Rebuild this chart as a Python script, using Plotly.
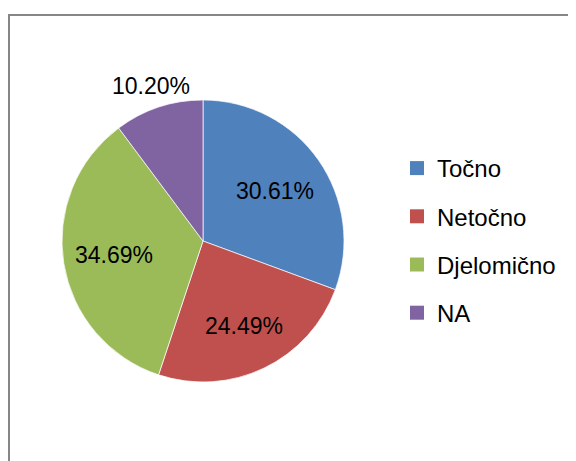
import math
import plotly.graph_objects as go

categories = ["Točno", "Netočno", "Djelomično", "NA"]
counts = [15, 12, 17, 5]  # 30.61%, 24.49%, 34.69%, 10.20%
colors = ["#4F81BD", "#C0504D", "#9BBB59", "#8064A2"]
label_dist = [0.62, 0.67, 0.64, 1.16]  # label distance from centre, in radii

W, H = 576, 461
OFF = 8  # page body margin
FONT = "Liberation Sans, Arial, sans-serif"

# pie geometry (pixels within the figure)
cx, cy, R = 203 - OFF, 241 - OFF, 141

fig = go.Figure()
fig.add_trace(go.Pie(
    labels=categories,
    values=counts,
    sort=False,
    direction="clockwise",
    rotation=0,
    marker=dict(colors=colors, line=dict(color="white", width=0.7)),
    textinfo="none",
    domain=dict(x=[(cx - R) / W, (cx + R) / W],
                y=[1 - (cy + R) / H, 1 - (cy - R) / H]),
    showlegend=False,
    hoverinfo="label+percent",
))

# percentage labels placed at each slice's mid-angle
total = sum(counts)
annotations = []
cum = 0
for c, d in zip(counts, label_dist):
    mid = (cum + c / 2) / total * 2 * math.pi
    cum += c
    px = cx + math.sin(mid) * d * R
    py = cy - math.cos(mid) * d * R
    annotations.append(dict(
        text=f"{c / total * 100:.2f}%", xref="paper", yref="paper",
        x=px / W, y=1 - py / H, xanchor="center", yanchor="middle",
        showarrow=False, font=dict(family=FONT, size=23, color="black"),
    ))

# legend entries (one per category, spaced like the reference)
for i, (cat, col) in enumerate(zip(categories, colors)):
    fig.add_trace(go.Scatter(
        x=[None], y=[None], mode="markers", name=cat,
        legendgroup=f"g{i}",
        marker=dict(symbol="square", size=14, color=col),
        showlegend=True,
    ))

fig.update_layout(
    width=W, height=H,
    margin=dict(l=0, r=0, t=0, b=0),
    paper_bgcolor="white",
    plot_bgcolor="white",
    xaxis=dict(visible=False),
    yaxis=dict(visible=False),
    legend=dict(
        x=(397 - OFF) / W, xanchor="left",
        y=1 - (240.5 - OFF) / H, yanchor="middle",
        font=dict(family=FONT, size=24, color="black"),
        tracegroupgap=14,
        itemclick=False, itemdoubleclick=False,
        bgcolor="rgba(0,0,0,0)",
    ),
    annotations=annotations,
    shapes=[dict(
        type="rect", xref="paper", yref="paper",
        x0=(9 - OFF) / W, x1=1.05, y0=-0.05, y1=1 - (15 - OFF) / H,
        line=dict(color="#868686", width=2),
        fillcolor="rgba(0,0,0,0)", layer="above",
    )],
)

fig.write_html("out.html")
